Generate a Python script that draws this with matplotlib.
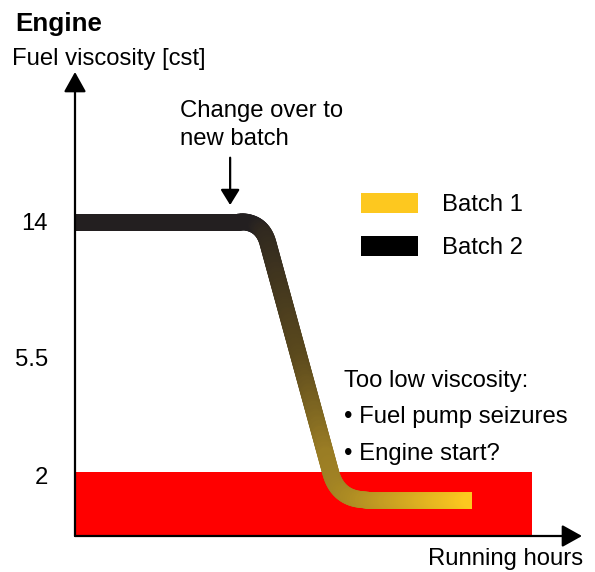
import numpy as np
import matplotlib.pyplot as plt
from matplotlib.collections import LineCollection
from matplotlib.colors import LinearSegmentedColormap
from matplotlib.patches import Patch, Rectangle
from matplotlib.ticker import NullLocator

plt.rcParams['font.family'] = ['Liberation Sans', 'DejaVu Sans']

# schematic viscosity profile, x = running hours (arbitrary units)
hours = [0.0, 3.69, 5.19, 7.83]
viscosity = [14.0, 14.0, 1.57, 1.57]

ytick_values = [14, 5.5, 2]
ytick_labels = ['14', '5.5', '2']

# red "too low viscosity" zone
zone_end = 9.01
zone_top = 2.07

changeover_hour = 3.06

batch_labels = ['Batch 1', 'Batch 2']
batch_colors = ['#FDC81F', '#000000']

notes = ['Too low viscosity:', '\u2022 Fuel pump seizures', '\u2022 Engine start?']

W, H = 595, 572
FS = 17.2


def fx(px):
    return px / W


def fy(py):
    return 1 - py / H


fig = plt.figure(figsize=(W / 100, H / 100), dpi=100)
ax = fig.add_axes([fx(75), fy(536), (582 - 75) / W, (536 - 72) / H])
ax.patch.set_alpha(0)

p = 0.23
ax.set_yscale('function', functions=(lambda v: np.power(np.abs(v), p),
                                     lambda u: np.power(np.abs(u), 1 / p)))
ax.set_xlim(0, 10)
ax.set_ylim(1.066, 32.4)
y0 = ax.get_ylim()[0]

# red zone
ax.add_patch(Rectangle((0, y0), zone_end, zone_top - y0, color='#FF0000', lw=0, zorder=1))

# thick line with rounded corners, coloured black -> yellow along x
pts = ax.transData.transform(np.column_stack([hours, viscosity]))
radii = [0, 22, 28, 0]
path = [pts[0]]
for i in range(1, len(pts) - 1):
    a, b, c = pts[i - 1], pts[i], pts[i + 1]
    d1 = (b - a) / np.linalg.norm(b - a)
    d2 = (c - b) / np.linalg.norm(c - b)
    p0 = b - d1 * radii[i]
    p2 = b + d2 * radii[i]
    t = np.linspace(0, 1, 20)[:, None]
    path.extend((1 - t) ** 2 * p0 + 2 * (1 - t) * t * b + t ** 2 * p2)
path.append(pts[-1])
path = np.array(path)

fine = [path[0]]
for a, b in zip(path[:-1], path[1:]):
    n = max(int(np.linalg.norm(b - a) / 2), 1)
    t = np.linspace(0, 1, n + 1)[1:, None]
    fine.extend(a + (b - a) * t)
fine = ax.transData.inverted().transform(np.array(fine))
segs = np.stack([fine[:-1], fine[1:]], axis=1)
mid_x = (fine[:-1, 0] + fine[1:, 0]) / 2

cmap = LinearSegmentedColormap.from_list(
    'fuel', [(0, '#231F20'), (0.21, '#5C4A1D'), (0.33, '#9A7D24'), (1, '#FDC81F')])
g0, g1 = 3.55, hours[-1]
cols = cmap(np.clip((mid_x - g0) / (g1 - g0), 0, 1))

lc = LineCollection(segs, colors=cols, linewidths=12.2, capstyle='round',
                    joinstyle='round', zorder=3)
ax.add_collection(lc)
clip = Rectangle((0, 1.0), hours[-1], 40, transform=ax.transData)
lc.set_clip_path(clip)

# axes as arrows
for tip in [(0, 1), (1, 0)]:
    ax.annotate('', xy=tip, xytext=(0, 0), xycoords='axes fraction',
                arrowprops=dict(arrowstyle='-|>,head_length=0.61,head_width=0.34',
                                mutation_scale=20, lw=1.6, color='black',
                                shrinkA=0, shrinkB=0),
                annotation_clip=False, zorder=5)

# change-over arrow
ax.annotate('', xy=(changeover_hour, 14), xytext=(0, 64), textcoords='offset pixels',
            arrowprops=dict(arrowstyle='-|>,head_length=0.47,head_width=0.29',
                            mutation_scale=20, lw=1.6, color='black',
                            shrinkA=0, shrinkB=12),
            zorder=5)

for s in ax.spines.values():
    s.set_visible(False)
ax.set_xticks([])
ax.set_yticks(ytick_values, ytick_labels)
ax.yaxis.set_minor_locator(NullLocator())
ax.tick_params(axis='y', length=0, pad=19.4, labelsize=FS)

# texts
fig.text(fx(15), fy(31), 'Engine', fontsize=FS + 1.5, fontweight='bold', va='baseline')
fig.text(fx(12), fy(65), 'Fuel viscosity [cst]', fontsize=FS, va='baseline')
fig.text(fx(180), fy(117), 'Change over to', fontsize=FS, va='baseline')
fig.text(fx(180), fy(145), 'new batch', fontsize=FS, va='baseline')
fig.text(fx(583), fy(565), 'Running hours', fontsize=FS, ha='right', va='baseline')
for i, line in enumerate(notes):
    fig.text(fx(344), fy(387 + i * 36.5), line, fontsize=FS, va='baseline')

handles = [Patch(facecolor=c, edgecolor='none') for c in batch_colors]
fig.legend(handles, batch_labels, loc='upper left', bbox_to_anchor=(fx(361), fy(193)),
           frameon=False, fontsize=FS, borderpad=0, borderaxespad=0,
           handlelength=2.39, handleheight=0.92, handletextpad=1.0, labelspacing=0.82)

fig.savefig('out.png', dpi=100)
